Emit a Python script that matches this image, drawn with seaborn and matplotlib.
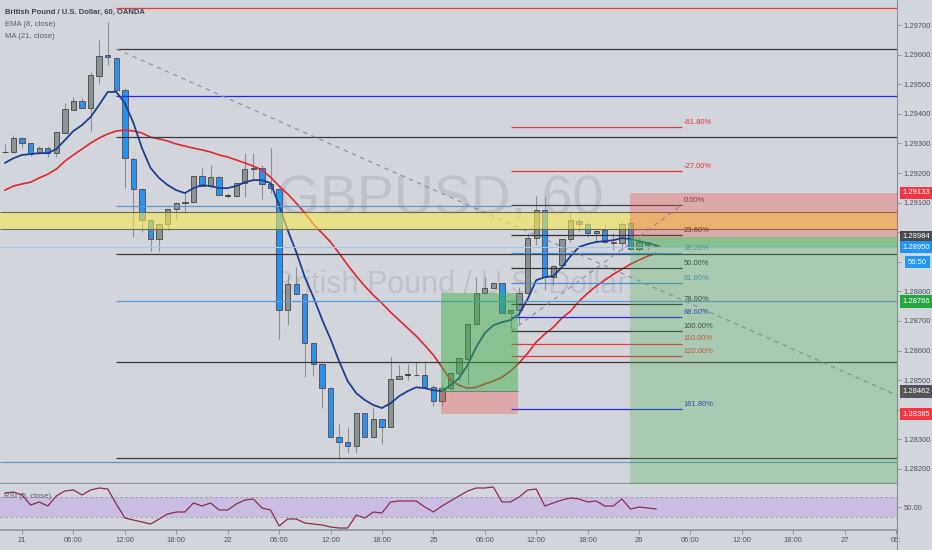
import numpy as np
import pandas as pd
import matplotlib
matplotlib.use("Agg")
import matplotlib.pyplot as plt
import seaborn as sns

# GBPUSD 60 min bars, bar 0 = 21st 00:00
bars = list(range(-2, 75))
opens = [1.29271, 1.29271, 1.29318, 1.29301, 1.29267, 1.29284, 1.29267, 1.29335, 1.29413, 1.29443,
         1.29419, 1.29528, 1.29599, 1.29588, 1.29480, 1.29247, 1.29146, 1.29041, 1.28977, 1.29027,
         1.29078, 1.29098, 1.29102, 1.29190, 1.29156, 1.29186, 1.29125, 1.29122, 1.29166, 1.29213,
         1.29217, 1.29163, 1.29146, 1.28737, 1.28825, 1.28791, 1.28625, 1.28554, 1.28473, 1.28307,
         1.28290, 1.28277, 1.28388, 1.28307, 1.28368, 1.28341, 1.28503, 1.28517, 1.28517, 1.28517,
         1.28476, 1.28429, 1.28473, 1.28524, 1.28571, 1.28689, 1.28794, 1.28811, 1.28828, 1.28727,
         1.28737, 1.28794, 1.28980, 1.29075, 1.28848, 1.28889, 1.28977, 1.29037, 1.29027, 1.28997,
         1.29007, 1.28967, 1.28963, 1.29031, 1.28943, 1.28967, 1.28956]
highs = [1.29298, 1.29328, 1.29321, 1.29301, 1.29291, 1.29291, 1.29338, 1.29436, 1.29457, 1.29453,
         1.29541, 1.29649, 1.29710, 1.29592, 1.29487, 1.29254, 1.29149, 1.29044, 1.29027, 1.29078,
         1.29102, 1.29132, 1.29190, 1.29217, 1.29227, 1.29190, 1.29132, 1.29166, 1.29267, 1.29267,
         1.29227, 1.29284, 1.29149, 1.28855, 1.28882, 1.28794, 1.28625, 1.28558, 1.28476, 1.28351,
         1.28341, 1.28388, 1.28388, 1.28405, 1.28368, 1.28578, 1.28551, 1.28554, 1.28561, 1.28558,
         1.28483, 1.28483, 1.28524, 1.28578, 1.28689, 1.28848, 1.28848, 1.28831, 1.28828, 1.28737,
         1.28814, 1.28997, 1.29122, 1.29119, 1.28889, 1.28977, 1.29065, 1.29048, 1.29034, 1.29007,
         1.29027, 1.28997, 1.29034, 1.29048, 1.28983, 1.28967, 1.28960]
lows = [1.29267, 1.29267, 1.29284, 1.29257, 1.29264, 1.29254, 1.29254, 1.29335, 1.29413, 1.29419,
        1.29342, 1.29501, 1.29565, 1.29474, 1.29149, 1.28983, 1.29000, 1.28936, 1.28936, 1.29007,
        1.29041, 1.29065, 1.29098, 1.29156, 1.29149, 1.29125, 1.29115, 1.29119, 1.29119, 1.29176,
        1.29112, 1.29132, 1.28639, 1.28686, 1.28791, 1.28510, 1.28514, 1.28405, 1.28307, 1.28236,
        1.28253, 1.28253, 1.28307, 1.28307, 1.28284, 1.28341, 1.28503, 1.28500, 1.28514, 1.28476,
        1.28412, 1.28412, 1.28459, 1.28500, 1.28483, 1.28689, 1.28794, 1.28811, 1.28727, 1.28676,
        1.28689, 1.28794, 1.28956, 1.28804, 1.28821, 1.28889, 1.28967, 1.29004, 1.28983, 1.28963,
        1.28963, 1.28940, 1.28940, 1.28943, 1.28936, 1.28940, 1.28950]
closes = [1.29270, 1.29318, 1.29301, 1.29264, 1.29284, 1.29267, 1.29338, 1.29416, 1.29443, 1.29419,
          1.29531, 1.29595, 1.29592, 1.29480, 1.29250, 1.29146, 1.29041, 1.28977, 1.29027, 1.29078,
          1.29098, 1.29102, 1.29190, 1.29156, 1.29186, 1.29125, 1.29122, 1.29166, 1.29213, 1.29217,
          1.29163, 1.29149, 1.28737, 1.28825, 1.28791, 1.28625, 1.28554, 1.28473, 1.28307, 1.28290,
          1.28277, 1.28388, 1.28307, 1.28368, 1.28341, 1.28503, 1.28514, 1.28517, 1.28516, 1.28476,
          1.28429, 1.28473, 1.28524, 1.28574, 1.28689, 1.28794, 1.28811, 1.28828, 1.28727, 1.28737,
          1.28794, 1.28980, 1.29075, 1.28848, 1.28885, 1.28977, 1.29041, 1.29027, 1.28997, 1.29004,
          1.28967, 1.28963, 1.29027, 1.28943, 1.28967, 1.28956, 1.28950]
ema8 = [1.29234, 1.29250, 1.29261, 1.29264, 1.29267, 1.29267, 1.29281, 1.29311, 1.29342, 1.29362,
        1.29389, 1.29430, 1.29474, 1.29474, 1.29436, 1.29369, 1.29284, 1.29217, 1.29183, 1.29159,
        1.29142, 1.29132, 1.29149, 1.29159, 1.29156, 1.29149, 1.29149, 1.29156, 1.29169, 1.29176,
        1.29176, 1.29166, 1.29092, 1.29007, 1.28933, 1.28848, 1.28781, 1.28706, 1.28639, 1.28564,
        1.28497, 1.28456, 1.28433, 1.28416, 1.28406, 1.28422, 1.28446, 1.28463, 1.28476, 1.28473,
        1.28466, 1.28463, 1.28483, 1.28507, 1.28551, 1.28612, 1.28659, 1.28686, 1.28696, 1.28703,
        1.28723, 1.28774, 1.28838, 1.28848, 1.28852, 1.28882, 1.28919, 1.28950, 1.28960, 1.28967,
        1.28970, 1.28973, 1.28980, 1.28977, 1.28970, 1.28963, 1.28956]
ma21 = [1.29142, 1.29156, 1.29163, 1.29169, 1.29183, 1.29196, 1.29213, 1.29240, 1.29261, 1.29281,
        1.29301, 1.29318, 1.29332, 1.29342, 1.29345, 1.29342, 1.29335, 1.29321, 1.29315, 1.29308,
        1.29298, 1.29291, 1.29284, 1.29278, 1.29271, 1.29261, 1.29254, 1.29244, 1.29234, 1.29223,
        1.29210, 1.29186, 1.29156, 1.29129, 1.29098, 1.29065, 1.29027, 1.28997, 1.28967, 1.28929,
        1.28889, 1.28852, 1.28818, 1.28787, 1.28760, 1.28730, 1.28703, 1.28676, 1.28649, 1.28618,
        1.28585, 1.28544, 1.28500, 1.28483, 1.28473, 1.28476, 1.28487, 1.28497, 1.28510, 1.28531,
        1.28558, 1.28591, 1.28629, 1.28656, 1.28679, 1.28710, 1.28733, 1.28767, 1.28794, 1.28818,
        1.28838, 1.28858, 1.28875, 1.28892, 1.28906, 1.28919, 1.28929]
rsi5 = [78, 80, 74, 54, 60, 52, 72, 82, 84, 74,
        84, 88, 86, 56, 28, 24, 20, 16, 26, 36,
        40, 40, 58, 52, 58, 44, 44, 56, 64, 66,
        48, 44, 12, 26, 26, 18, 16, 14, 10, 8,
        8, 34, 28, 40, 38, 60, 62, 62, 62, 50,
        40, 52, 62, 72, 82, 88, 88, 90, 60, 60,
        70, 84, 86, 52, 58, 64, 68, 66, 60, 62,
        52, 52, 66, 46, 50, 48, 46]

time_ticks = list(range(0, 103, 6))
time_labels = ['21', '06:00', '12:00', '18:00', '22', '06:00', '12:00', '18:00', '25',
               '06:00', '12:00', '18:00', '26', '06:00', '12:00', '18:00', '27', '06:']
price_ticks = [1.282, 1.283, 1.284, 1.285, 1.286, 1.287, 1.288, 1.289,
               1.290, 1.291, 1.292, 1.293, 1.294, 1.295, 1.296, 1.297]
# tick labels covered by the price tags in the original
hidden_ticks = [1.284, 1.289, 1.290]

# horizontal levels drawn from the swing high to the right
levels = [1.29757, 1.29619, 1.29460, 1.29321, 1.28926, 1.28766, 1.28561, 1.28236]
level_colors = ['#e53935', '#3a3a3a', '#2a2ad6', '#3a3a3a', '#3a3a3a', '#5a9ad8', '#3a3a3a', '#3a3a3a']
old_level = 1.29088
low_level = 1.28223
zone = (1.29011, 1.29068)
last_price = 1.28950

# fib retracement
fib_top, fib_bottom = 1.29092, 1.28666
fib_ratios = [-0.618, -0.27, 0.0, 0.236, 0.382, 0.5, 0.618, 0.786, 0.886, 1.0, 1.1, 1.2, 1.618]
fib_labels = ['-61.80%', '-27.00%', '0.00%', '23.60%', '38.20%', '50.00%', '61.80%',
              '78.60%', '88.60%', '100.00%', '110.00%', '120.00%', '161.80%']
fib_colors = ['#e53935', '#e53935', '#444444', '#333333', '#4a8fd4', '#333333', '#4a8fd4',
              '#333333', '#2a2ad6', '#333333', '#e53935', '#e53935', '#2a2ad6']

# trend line
trend_x = [11, 102.1]
trend_y = [1.29619, 1.28449]

# long / short positions
long_entry, long_target, long_stop = 1.28462, 1.28796, 1.28385
short_entry, short_stop, short_target = 1.28984, 1.29133, 1.27900

axis_tags = [(1.29133, '1.29133', '#f23645'), (1.28984, '1.28984', '#4a4a4a'),
             (1.28950, '1.28950', '#2196f3'), (1.28766, '1.28766', '#26a641'),
             (1.28462, '1.28462', '#555555'), (1.28385, '1.28385', '#f23645')]

bg = '#d2d5dc'
sns.set_theme(style='white', rc={'axes.facecolor': bg, 'figure.facecolor': bg})
plt.rcParams['font.family'] = ['Liberation Sans', 'DejaVu Sans']

df = pd.DataFrame({'bar': bars, 'open': opens, 'high': highs, 'low': lows, 'close': closes,
                   'ema': ema8, 'ma': ma21, 'rsi': rsi5})

fig = plt.figure(figsize=(9.32, 5.5), dpi=100)
ax = fig.add_axes([0, 66 / 550, 897 / 932, 484 / 550])
ax_rsi = fig.add_axes([0, 20 / 550, 897 / 932, 46 / 550], sharex=ax)

xmin, xmax = -2.57, 102.1
ax.set_xlim(xmin, xmax)
ax.set_ylim(1.281493, 1.297845)

# watermark
ax.text(48.8, 1.29109, 'GBPUSD, 60', fontsize=40, color='#bfc2ca', ha='center', va='center', zorder=1)
ax.text(50.0, 1.28821, 'British Pound / U.S. Dollar', fontsize=22, color='#bfc2ca',
        ha='center', va='center', zorder=1)

# candles
up = df['close'] > df['open']
doji = (df['close'] - df['open']).abs() < 0.00003
down = ~up & ~doji
body_lo = np.minimum(df['open'], df['close'])
body_h = np.maximum((df['close'] - df['open']).abs(), 0.000025)
ax.vlines(df['bar'], df['low'], df['high'], color='#8a8f96', lw=0.8, zorder=2)
ax.bar(df['bar'][up], body_h[up], bottom=body_lo[up], width=0.62, color='#8d9295',
       edgecolor='#3c4a3e', lw=0.6, zorder=3)
ax.bar(df['bar'][down], body_h[down], bottom=body_lo[down], width=0.62, color='#2196f3',
       edgecolor='#6e3d40', lw=0.6, zorder=3)
ax.bar(df['bar'][doji], body_h[doji], bottom=body_lo[doji], width=0.62, color='#333a33',
       edgecolor='#333a33', lw=0.6, zorder=3)

# moving averages
sns.lineplot(data=df, x='bar', y='ma', color='#e0282e', lw=1.2, ax=ax, zorder=4)
sns.lineplot(data=df, x='bar', y='ema', color='#1d3f8f', lw=1.3, ax=ax, zorder=4)

# horizontal levels
ax.hlines(levels, 11, xmax, colors=level_colors, lw=0.9, zorder=5)
ax.hlines(old_level, 11, 57, colors='#5a9ad8', lw=0.9, zorder=5)
ax.hlines(low_level, xmin, xmax, colors='#5a9ad8', lw=0.9, zorder=5)
ax.hlines(last_price, xmin, xmax, colors='#9fc6ec', lw=0.8, zorder=5)
ax.plot(trend_x, trend_y, color='#8c8f96', lw=0.8, ls=(0, (4, 4)), zorder=5)

# supply zone
ax.axhspan(zone[0], zone[1], color='#f8ea52', alpha=0.6, lw=0, zorder=6)
ax.hlines(list(zone), xmin, xmax, colors='#6b6b50', lw=0.8, zorder=6)

# fib retracement
fib_x0, fib_x1 = 57.06, 77.0
fib_prices = [fib_top - r * (fib_top - fib_bottom) for r in fib_ratios]
ax.hlines(fib_prices, fib_x0, fib_x1, colors=fib_colors, lw=0.9, zorder=7)
for p, lab, c in zip(fib_prices, fib_labels, fib_colors):
    ax.text(fib_x1 + 0.2, p + 0.00004, lab, fontsize=5.5, color=c, va='bottom', ha='left', zorder=7)
ax.plot([fib_x0, fib_x1], [fib_bottom, fib_top], color='#8c8f96', lw=0.8, ls=(0, (4, 4)), zorder=7)

# long position (left)
ax.fill_between([48.9, 57.9], long_entry, long_target, color='#3fae4a', alpha=0.5, lw=0, zorder=8)
ax.fill_between([48.9, 57.9], long_stop, long_entry, color='#f44336', alpha=0.3, lw=0, zorder=8)
ax.hlines(long_entry, 48.9, 57.9, colors='#6b7a6b', lw=0.6, zorder=8)

# short position (right)
ax.fill_between([70.9, 110], short_entry, short_stop, color='#f44336', alpha=0.3, lw=0, zorder=8)
ax.fill_between([70.9, 110], short_target, short_entry, color='#4caf50', alpha=0.3, lw=0, zorder=8)
ax.fill_between([70.9, 110], last_price, short_entry, color='#4caf50', alpha=0.35, lw=0, zorder=8)

# price axis
ax.yaxis.tick_right()
ax.set_yticks(price_ticks)
ax.set_yticklabels(['' if p in hidden_ticks else '{:.5f}'.format(p) for p in price_ticks])
ax.tick_params(axis='y', length=3, width=0.6, colors='#8a8d94', labelcolor='#50545c',
               labelsize=5.5, pad=2, right=True)
ax.tick_params(axis='x', bottom=False, labelbottom=False)
ax.set_xlabel('')
ax.set_ylabel('')
for s in ['top', 'left']:
    ax.spines[s].set_visible(False)
ax.spines['right'].set_color('#8a8d94')
ax.spines['right'].set_linewidth(0.8)
ax.spines['bottom'].set_color('#8f939b')
ax.spines['bottom'].set_linewidth(1.6)

for p, txt, c in axis_tags:
    ax.annotate(txt, xy=(1, p), xycoords=('axes fraction', 'data'), xytext=(4, 0),
                textcoords='offset points', fontsize=5.5, color='white', va='center', ha='left',
                annotation_clip=False, zorder=10,
                bbox=dict(boxstyle='square,pad=0.35', fc=c, ec='none'))
ax.annotate('56:50', xy=(1, last_price), xycoords=('axes fraction', 'data'), xytext=(8, -11),
            textcoords='offset points', fontsize=5.5, color='white', va='center', ha='left',
            annotation_clip=False, zorder=10,
            bbox=dict(boxstyle='square,pad=0.35', fc='#2196f3', ec='none'))

# legend text
fig.text(5 / 932, 1 - 12 / 550, 'British Pound / U.S. Dollar, 60, OANDA', fontsize=5.5,
         color='#3d4350', weight='bold', va='center')
fig.text(5 / 932, 1 - 25 / 550, 'EMA (8, close)', fontsize=5.6, color='#5a5f6a', va='center')
fig.text(5 / 932, 1 - 36 / 550, 'MA (21, close)', fontsize=5.6, color='#5a5f6a', va='center')

# RSI panel
ax_rsi.set_ylim(4, 96)
ax_rsi.axhspan(30, 70, color='#c9bde2', lw=0, zorder=1)
ax_rsi.axhline(70, color='#9c9aa8', lw=0.6, ls=(0, (3, 3)), zorder=2)
ax_rsi.axhline(30, color='#9c9aa8', lw=0.6, ls=(0, (3, 3)), zorder=2)
sns.lineplot(data=df, x='bar', y='rsi', color='#8e2c4c', lw=0.9, ax=ax_rsi, zorder=3)
ax_rsi.text(0.005, 0.72, 'RSI (5, close)', transform=ax_rsi.transAxes, fontsize=5.6,
            color='#5a5f6a', va='center')
ax_rsi.yaxis.tick_right()
ax_rsi.set_yticks([50])
ax_rsi.set_yticklabels(['50.00'])
ax_rsi.set_xticks(time_ticks)
ax_rsi.set_xticklabels(time_labels)
ax_rsi.tick_params(axis='y', length=3, width=0.6, colors='#8a8d94', labelcolor='#50545c',
                   labelsize=5.5, pad=2)
ax_rsi.tick_params(axis='x', length=3, width=0.6, colors='#8a8d94', labelcolor='#50545c',
                   labelsize=5.5, pad=2, bottom=True)
ax_rsi.set_xlabel('')
ax_rsi.set_ylabel('')
ax_rsi.spines['top'].set_visible(False)
ax_rsi.spines['left'].set_visible(False)
ax_rsi.spines['right'].set_color('#8a8d94')
ax_rsi.spines['right'].set_linewidth(0.8)
ax_rsi.spines['bottom'].set_color('#8f939b')
ax_rsi.spines['bottom'].set_linewidth(1.2)
ax_rsi.set_xlim(xmin, xmax)

# price axis line continues to the bottom edge
fig.add_artist(plt.Line2D([897 / 932, 897 / 932], [0, 20 / 550], color='#8a8d94', lw=0.8))

fig.savefig('out.png', dpi=100, facecolor=bg)
